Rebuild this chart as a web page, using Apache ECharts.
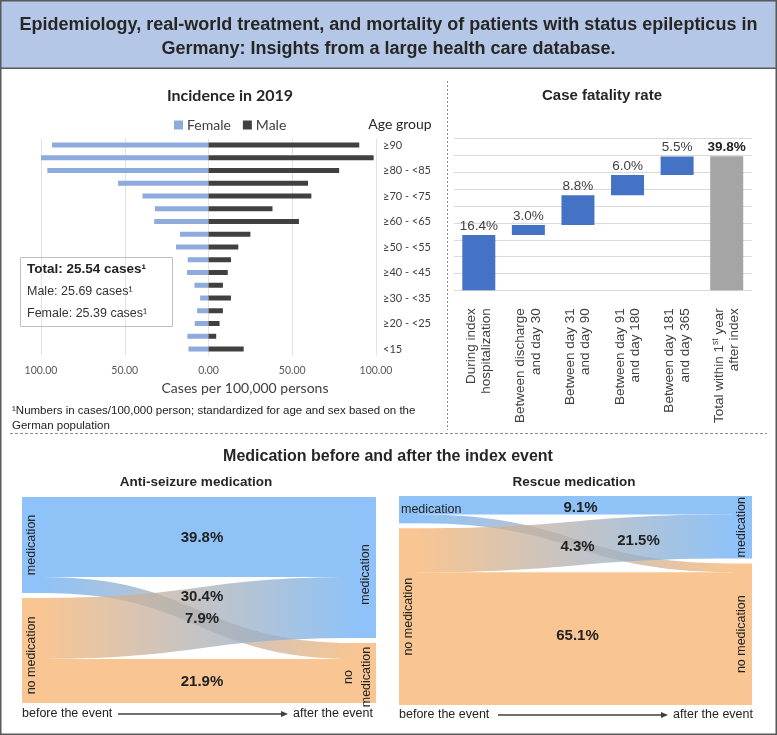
<!DOCTYPE html>
<html><head><meta charset="utf-8">
<script src="https://cdn.jsdelivr.net/npm/echarts@6/dist/echarts.min.js"></script>
<style>html,body{margin:0;padding:0;background:#fff}#c{width:777px;height:735px}</style>
</head><body><div id="c"></div>
<script>
// ---------- Incidence (population pyramid) ----------
const ageGroups = ['<15','≥15 - <20','≥20 - <25','≥25 - <30','≥30 - <35','≥35 - <40','≥40 - <45','≥45 - <50','≥50 - <55','≥55 - <60','≥60 - <65','≥65 - <70','≥70 - <75','≥75 - <80','≥80 - <85','≥85 - <90','≥90'];
const femaleIncidence = [12.0, 12.6, 8.2, 6.8, 5.0, 8.4, 12.8, 12.4, 19.4, 17.0, 32.4, 32.0, 39.4, 54.0, 96.2, 100.4, 93.4];
const maleIncidence   = [21.0, 4.6, 6.6, 8.6, 13.4, 8.6, 11.5, 13.4, 17.8, 25.0, 54.0, 38.2, 61.4, 59.4, 78.0, 98.6, 90.0];
const incidenceTicks = [-100, -50, 0, 50, 100];

// ---------- Case fatality rate (waterfall) ----------
const fatalityCategories = ['During index\nhospitalization','Between discharge\nand day 30','Between day 31\nand day 90','Between day 91\nand day 180','Between day 181\nand day 365','Total within 1st year\nafter index'];
const fatalityValues = [16.4, 3.0, 8.8, 6.0, 5.5, 39.8];
const fatalityTotalIndex = 5;

// ---------- Medication flows (before -> after) ----------
const flowStates = ['medication', 'no medication'];
// order: med->med, med->none, none->med, none->none
const asmFlows = [39.8, 7.9, 30.4, 21.9];
const rescueFlows = [9.1, 4.3, 21.5, 65.1];

const SANS = 'Liberation Sans';
const BLUE = '#6aaef5', ORANGE = '#f6b26f';

// waterfall base offsets from the step values
const fatalityBase = [];
let run = 0;
fatalityValues.forEach((v, i) => {
  if (i === fatalityTotalIndex) { fatalityBase.push(0); }
  else { fatalityBase.push(run); run += v; }
});

function flowLinks(flows, prefix, labelOffsets) {
  const pairs = [[0,0],[0,1],[1,0],[1,1]];
  return pairs.map((p, i) => ({
    source: prefix + 'b' + p[0],
    target: prefix + 'a' + p[1],
    value: flows[i],
    edgeLabel: { offset: labelOffsets[i] }
  }));
}

function sankeySeries(prefix, flows, box, nodeLabels, labelOffsets) {
  const cols = [BLUE, ORANGE];
  const nodes = [];
  ['b','a'].forEach(side => {
    [0,1].forEach(k => {
      nodes.push({
        name: prefix + side + k,
        itemStyle: { color: cols[k], opacity: 0.75, borderWidth: 0 },
        label: Object.assign({ show: true, formatter: flowStates[k] }, nodeLabels[side + k])
      });
    });
  });
  return Object.assign({
    type: 'sankey',
    nodeWidth: 20,
    nodeGap: 5,
    layoutIterations: 0,
    draggable: false,
    silent: true,
    emphasis: { disabled: true },
    data: nodes,
    links: flowLinks(flows, prefix, labelOffsets),
    lineStyle: { color: 'gradient', opacity: 0.75, curveness: 0.5 },
    label: { show: true, position: 'inside', rotate: 90, fontFamily: SANS, fontSize: 12.5, color: '#222' },
    edgeLabel: {
      show: true,
      formatter: p => p.value.toFixed(1) + '%',
      fontFamily: SANS, fontSize: 15, fontWeight: 'bold', color: '#222'
    }
  }, box);
}

const chart = echarts.init(document.getElementById('c'), null, { renderer: 'canvas' });

const txt = (text, x, y, o) => ({
  type: 'text', z: 50,
  style: Object.assign({ text, x, y, textAlign: 'center', textVerticalAlign: 'middle', fontFamily: SANS, fontSize: 13, fill: '#222' }, o || {})
});

const option = {
  animation: false,
  backgroundColor: '#fff',
  legend: {
    data: ['Female', 'Male'],
    left: 169, top: 113,
    icon: 'rect', itemWidth: 9, itemHeight: 9, itemGap: 12,
    textStyle: { fontFamily: 'Lato', fontSize: 14, color: '#404040', padding: [0, 0, 0, -1] }
  },
  grid: [
    { left: 41, top: 138.6, width: 335, height: 216.8 },
    { left: 454, top: 138.7, width: 297.5, height: 151.6 }
  ],
  xAxis: [
    {
      gridIndex: 0, type: 'value', min: -100, max: 100, interval: 50,
      axisLine: { show: false }, axisTick: { show: false },
      splitLine: { lineStyle: { color: '#e3e3e3' } },
      axisLabel: { formatter: v => Math.abs(v).toFixed(2), fontFamily: 'Lato', fontSize: 10.5, color: '#595959', margin: 10 }
    },
    {
      gridIndex: 1, type: 'category', data: fatalityCategories,
      axisLine: { show: false }, axisTick: { show: false },
      axisLabel: {
        rotate: 90, interval: 0, margin: 18, fontFamily: SANS, fontSize: 13.5, lineHeight: 15.5, color: '#404040',
        formatter: (v) => v.indexOf('1st') >= 0 ? v.split('\n').map(l => l.indexOf('1st') >= 0 ? '{n|Total within 1}{sup|st}{n| year}' : '{n|' + l + '}').join('\n') : v,
        rich: {
          n: { fontFamily: SANS, fontSize: 13.5, lineHeight: 15.5, color: '#404040' },
          sup: { fontFamily: SANS, fontSize: 8.5, lineHeight: 15.5, color: '#404040', verticalAlign: 'top', padding: [0, 0, 6, 0] }
        }
      }
    }
  ],
  yAxis: [
    {
      gridIndex: 0, type: 'category', data: ageGroups, position: 'right',
      axisLine: { show: false }, axisTick: { show: false },
      axisLabel: { interval: 1, margin: 7, fontFamily: 'Lato', fontSize: 11, color: '#404040' }
    },
    {
      gridIndex: 1, type: 'value', min: 0, max: 45, interval: 5,
      axisLine: { show: false }, axisTick: { show: false }, axisLabel: { show: false },
      splitLine: { lineStyle: { color: '#d9d9d9' } }
    }
  ],
  series: [
    {
      name: 'Female', type: 'bar', xAxisIndex: 0, yAxisIndex: 0,
      data: femaleIncidence.map(v => -v), barWidth: 5, barGap: '-100%',
      itemStyle: { color: '#8faadc' }, silent: true
    },
    {
      name: 'Male', type: 'bar', xAxisIndex: 0, yAxisIndex: 0,
      data: maleIncidence, barWidth: 5, barGap: '-100%',
      itemStyle: { color: '#404040' }, silent: true
    },
    {
      name: 'base', type: 'bar', xAxisIndex: 1, yAxisIndex: 1, stack: 'wf',
      data: fatalityBase, barWidth: 33, itemStyle: { color: 'transparent' }, silent: true
    },
    {
      name: 'fatality', type: 'bar', xAxisIndex: 1, yAxisIndex: 1, stack: 'wf',
      barWidth: 33, silent: true,
      data: fatalityValues.map((v, i) => i === fatalityTotalIndex
        ? { value: v, itemStyle: { color: '#a5a5a5' }, label: { fontWeight: 'bold', color: '#222' } }
        : { value: v, itemStyle: { color: '#4472c4' } }),
      label: { show: true, position: 'top', distance: 2, formatter: p => p.value.toFixed(1) + '%', fontFamily: SANS, fontSize: 13.5, color: '#404040' }
    },
    sankeySeries('asm', asmFlows, { left: 22, top: 497, width: 354, height: 206 }, {
      b0: {},
      b1: { offset: [-5, 0] },
      a0: { offset: [-7, 0] },
      a1: { formatter: 'no\nmedication', lineHeight: 18, offset: [-4, -8] }
    }, [[3, 1], [3, 1], [3, -21], [3, 1]]),
    sankeySeries('res', rescueFlows, { left: 399, top: 496, width: 353, height: 209 }, {
      b0: { rotate: 0, position: 'insideLeft', distance: 2 },
      b1: {},
      a0: {},
      a1: {}
    }, [[5, 3], [2, 3], [63, -3], [2, -3]])
  ],
  graphic: [
    { type: 'rect', z: 1, shape: { x: 0.75, y: 0.75, width: 775.5, height: 733.5 }, style: { fill: 'none', stroke: '#595959', lineWidth: 1.5 } },
    { type: 'rect', z: 2, shape: { x: 0.75, y: 0.75, width: 775.5, height: 67.5 }, style: { fill: '#b4c7e7', stroke: '#595959', lineWidth: 1.5 } },
    txt('Epidemiology, real-world treatment, and mortality of patients with status epilepticus in', 388.5, 25, { fontSize: 18, fontWeight: 'bold', fill: '#262626' }),
    txt('Germany: Insights from a large health care database.', 388.5, 49, { fontSize: 18, fontWeight: 'bold', fill: '#262626' }),
    // dividers
    { type: 'line', z: 2, shape: { x1: 447.5, y1: 81, x2: 447.5, y2: 430 }, style: { stroke: '#8c8c8c', lineWidth: 1, lineDash: [2, 2] } },
    { type: 'line', z: 2, shape: { x1: 10, y1: 433.5, x2: 767, y2: 433.5 }, style: { stroke: '#8c8c8c', lineWidth: 1, lineDash: [3, 2] } },
    // incidence panel texts
    txt('Incidence in 2019', 230, 96, { fontFamily: 'Lato', fontSize: 16, fontWeight: 'bold', fill: '#262626' }),
    txt('Age group', 400, 124, { fontFamily: 'Lato', fontSize: 14, fill: '#262626' }),
    txt('Cases per 100,000 persons', 245, 388, { fontFamily: 'Lato', fontSize: 14, fill: '#404040' }),
    { type: 'rect', z: 3, shape: { x: 20.5, y: 257.5, width: 152, height: 69 }, style: { fill: 'none', stroke: '#bfbfbf', lineWidth: 1 } },
    txt('Total: 25.54 cases¹', 27, 269, { textAlign: 'left', fontSize: 13.5, fontWeight: 'bold', fill: '#222' }),
    txt('Male: 25.69 cases¹', 27, 292, { textAlign: 'left', fontSize: 12.5, fill: '#333' }),
    txt('Female: 25.39 cases¹', 27, 314, { textAlign: 'left', fontSize: 12.5, fill: '#333' }),
    txt('¹Numbers in cases/100,000 person; standardized for age and sex based on the', 12, 411, { textAlign: 'left', fontSize: 11.5, fill: '#222' }),
    txt('German population', 12, 426, { textAlign: 'left', fontSize: 11.5, fill: '#222' }),
    // fatality panel
    txt('Case fatality rate', 602, 96, { fontSize: 15, fontWeight: 'bold', fill: '#262626' }),
    // medication panel
    txt('Medication before and after the index event', 388, 457, { fontSize: 16, fontWeight: 'bold', fill: '#262626' }),
    txt('Anti-seizure medication', 196, 482, { fontSize: 13.5, fontWeight: 'bold', fill: '#262626' }),
    txt('Rescue medication', 574, 482, { fontSize: 13.5, fontWeight: 'bold', fill: '#262626' }),
    txt('before the event', 22, 714, { textAlign: 'left', fontSize: 12.5, fill: '#222' }),
    { type: 'line', z: 50, shape: { x1: 118, y1: 714, x2: 284, y2: 714 }, style: { stroke: '#404040', lineWidth: 1.3 } },
    { type: 'polygon', z: 50, shape: { points: [[288, 714], [281, 711], [281, 717]] }, style: { fill: '#404040' } },
    txt('after the event', 373, 714, { textAlign: 'right', fontSize: 12.5, fill: '#222' }),
    txt('before the event', 399, 715, { textAlign: 'left', fontSize: 12.5, fill: '#222' }),
    { type: 'line', z: 50, shape: { x1: 498, y1: 715, x2: 664, y2: 715 }, style: { stroke: '#404040', lineWidth: 1.3 } },
    { type: 'polygon', z: 50, shape: { points: [[668, 715], [661, 712], [661, 718]] }, style: { fill: '#404040' } },
    txt('after the event', 753, 715, { textAlign: 'right', fontSize: 12.5, fill: '#222' })
  ]
};
chart.setOption(option);
</script>
</body></html>
